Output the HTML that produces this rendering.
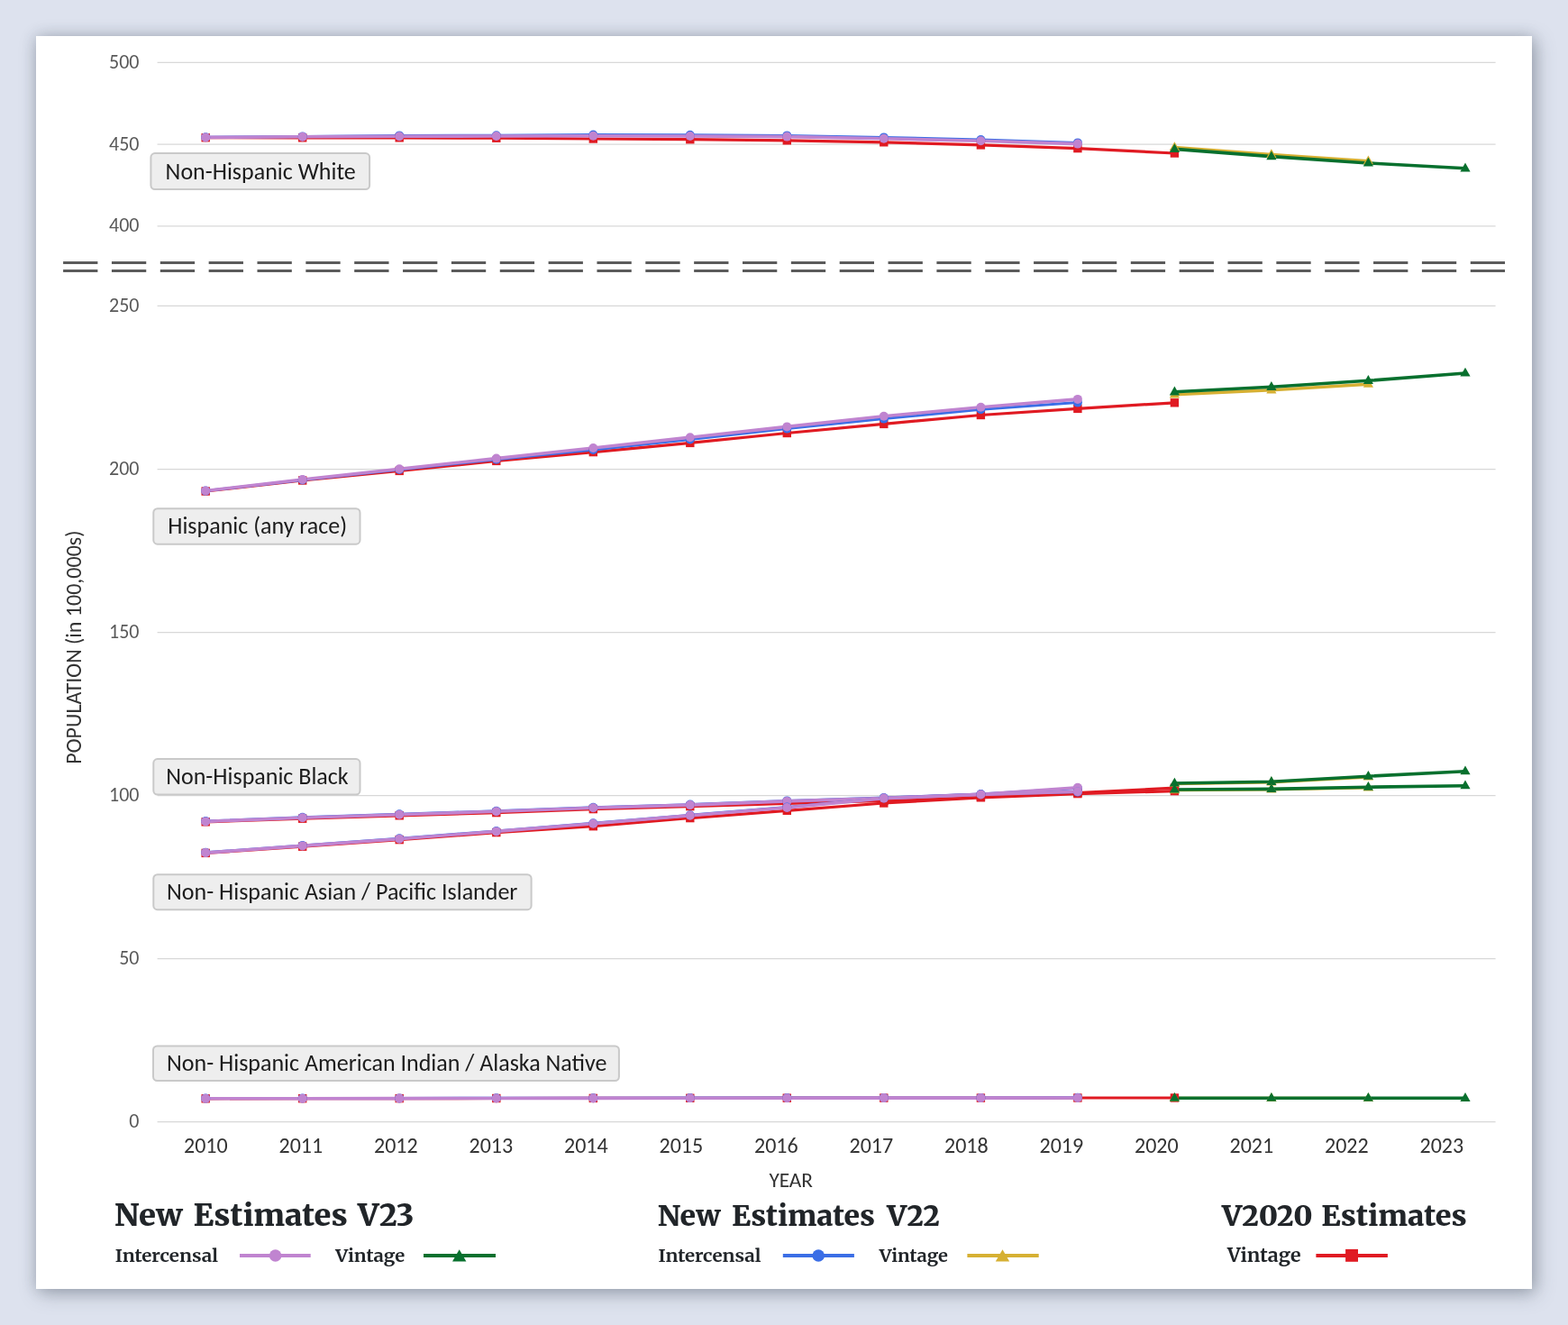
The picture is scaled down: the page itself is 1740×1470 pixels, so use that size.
<!DOCTYPE html>
<html><head><meta charset="utf-8"><title>Population Estimates by Race and Hispanic Origin</title>
<style>
html,body{margin:0;padding:0;}
body{width:1740px;height:1470px;background:#dde2ee;position:relative;overflow:hidden;}
.card{position:absolute;left:40px;top:40px;width:1660px;height:1390px;background:#ffffff;
  box-shadow:0 0 14px rgba(60,72,86,0.22), 4px 5px 20px rgba(60,72,86,0.36);}
svg{position:absolute;left:0;top:0;}
.tick{font-family:Carlito,"Liberation Sans",sans-serif;font-size:22px;fill:#595959;}
.xl{font-family:Carlito,"Liberation Sans",sans-serif;font-size:24px;fill:#333333;}
.lab{font-family:Carlito,"Liberation Sans",sans-serif;font-size:26px;fill:#1c1c1c;}
.ax{font-family:Carlito,"Liberation Sans",sans-serif;font-size:24px;fill:#333333;}
.lt{font-family:Merriweather,"Liberation Serif",serif;font-weight:900;fill:#212529;}
.li{font-family:Merriweather,"Liberation Serif",serif;font-weight:700;font-size:20px;fill:#212529;}
</style></head>
<body>
<div class="card"></div>
<svg width="1740" height="1470" viewBox="0 0 1740 1470">
<line x1="174.6" x2="1659.6" y1="69.45" y2="69.45" stroke="#d8d8d8" stroke-width="1.25"/>
<line x1="174.6" x2="1659.6" y1="160.1" y2="160.1" stroke="#d8d8d8" stroke-width="1.25"/>
<line x1="174.6" x2="1659.6" y1="250.8" y2="250.8" stroke="#d8d8d8" stroke-width="1.25"/>
<line x1="174.6" x2="1659.6" y1="339.45" y2="339.45" stroke="#d8d8d8" stroke-width="1.25"/>
<line x1="174.6" x2="1659.6" y1="520.5" y2="520.5" stroke="#d8d8d8" stroke-width="1.25"/>
<line x1="174.6" x2="1659.6" y1="701.5" y2="701.5" stroke="#d8d8d8" stroke-width="1.25"/>
<line x1="174.6" x2="1659.6" y1="882.55" y2="882.55" stroke="#d8d8d8" stroke-width="1.25"/>
<line x1="174.6" x2="1659.6" y1="1063.6" y2="1063.6" stroke="#d8d8d8" stroke-width="1.25"/>
<line x1="174.6" x2="1659.6" y1="1244.6" y2="1244.6" stroke="#d8d8d8" stroke-width="1.25"/>
<text x="154.5" y="75.9" class="tick" text-anchor="end" textLength="33.45" lengthAdjust="spacingAndGlyphs">500</text>
<text x="154.5" y="166.5" class="tick" text-anchor="end" textLength="33.45" lengthAdjust="spacingAndGlyphs">450</text>
<text x="154.5" y="257.2" class="tick" text-anchor="end" textLength="33.45" lengthAdjust="spacingAndGlyphs">400</text>
<text x="154.5" y="345.8" class="tick" text-anchor="end" textLength="33.45" lengthAdjust="spacingAndGlyphs">250</text>
<text x="154.5" y="526.9" class="tick" text-anchor="end" textLength="33.45" lengthAdjust="spacingAndGlyphs">200</text>
<text x="154.5" y="707.9" class="tick" text-anchor="end" textLength="33.45" lengthAdjust="spacingAndGlyphs">150</text>
<text x="154.5" y="888.9" class="tick" text-anchor="end" textLength="33.45" lengthAdjust="spacingAndGlyphs">100</text>
<text x="154.5" y="1070.0" class="tick" text-anchor="end" textLength="22.30" lengthAdjust="spacingAndGlyphs">50</text>
<text x="154.5" y="1251.0" class="tick" text-anchor="end" textLength="11.15" lengthAdjust="spacingAndGlyphs">0</text>
<g stroke="#5b5b5b" stroke-width="3" stroke-dasharray="38.3 15.55" stroke-linecap="butt">
<line x1="70.1" x2="1670" y1="291.4" y2="291.4"/>
<line x1="70.1" x2="1670" y1="300.5" y2="300.5"/>
</g>
<polyline points="228.2,152.7 335.7,152.8 443.2,152.8 550.8,153.2 658.3,154.0 765.8,154.7 873.3,155.8 980.8,157.8 1088.4,160.9 1195.9,164.6 1303.4,170.0" fill="none" stroke="#e01a22" stroke-width="3.2" stroke-linejoin="round"/>
<polyline points="228.2,152.2 335.7,151.4 443.2,150.4 550.8,150.2 658.3,149.6 765.8,149.8 873.3,150.4 980.8,152.4 1088.4,155.0 1195.9,158.4" fill="none" stroke="#3b6ee6" stroke-width="3.0" stroke-linejoin="round"/>
<polyline points="228.2,152.4 335.7,151.8 443.2,151.2 550.8,151.0 658.3,150.8 765.8,151.0 873.3,151.6 980.8,153.8 1088.4,156.3 1195.9,159.6" fill="none" stroke="#c084d0" stroke-width="3.6" stroke-linejoin="round"/>
<polyline points="1303.4,163.4 1410.9,171.4 1518.4,178.6" fill="none" stroke="#d6b033" stroke-width="3.4" stroke-linejoin="round"/>
<polyline points="1303.4,165.4 1410.9,173.6 1518.4,181.0 1626.0,186.8" fill="none" stroke="#08702e" stroke-width="3.6" stroke-linejoin="round"/>
<polyline points="228.2,545.0 335.7,533.0 443.2,522.4 550.8,511.4 658.3,501.6 765.8,491.4 873.3,480.5 980.8,470.4 1088.4,460.5 1195.9,453.4 1303.4,446.8" fill="none" stroke="#e01a22" stroke-width="3.2" stroke-linejoin="round"/>
<polyline points="228.2,544.6 335.7,532.4 443.2,521.0 550.8,509.8 658.3,499.0 765.8,487.5 873.3,475.6 980.8,464.6 1088.4,454.2 1195.9,446.6" fill="none" stroke="#3b6ee6" stroke-width="3.0" stroke-linejoin="round"/>
<polyline points="228.2,544.5 335.7,532.0 443.2,520.2 550.8,508.6 658.3,497.0 765.8,485.2 873.3,473.4 980.8,461.8 1088.4,451.8 1195.9,442.9" fill="none" stroke="#c084d0" stroke-width="3.6" stroke-linejoin="round"/>
<polyline points="1303.4,437.8 1410.9,432.8 1518.4,426.2" fill="none" stroke="#d6b033" stroke-width="3.4" stroke-linejoin="round"/>
<polyline points="1303.4,434.8 1410.9,429.3 1518.4,422.3 1626.0,414.0" fill="none" stroke="#08702e" stroke-width="3.6" stroke-linejoin="round"/>
<polyline points="228.2,911.8 335.7,908.2 443.2,904.8 550.8,901.6 658.3,897.6 765.8,894.6 873.3,891.4 980.8,888.4 1088.4,884.0 1195.9,879.6 1303.4,874.2" fill="none" stroke="#e01a22" stroke-width="3.2" stroke-linejoin="round"/>
<polyline points="228.2,911.0 335.7,906.8 443.2,903.2 550.8,899.8 658.3,895.7 765.8,892.6 873.3,888.4 980.8,885.0 1088.4,881.0 1195.9,874.6" fill="none" stroke="#3b6ee6" stroke-width="3.0" stroke-linejoin="round"/>
<polyline points="228.2,911.4 335.7,907.2 443.2,903.7 550.8,900.3 658.3,896.2 765.8,893.1 873.3,888.9 980.8,885.5 1088.4,881.4 1195.9,873.8" fill="none" stroke="#c084d0" stroke-width="3.6" stroke-linejoin="round"/>
<polyline points="1303.4,869.6 1410.9,867.8 1518.4,862.0" fill="none" stroke="#d6b033" stroke-width="3.4" stroke-linejoin="round"/>
<polyline points="1303.4,869.0 1410.9,867.3 1518.4,861.2 1626.0,855.7" fill="none" stroke="#08702e" stroke-width="3.6" stroke-linejoin="round"/>
<polyline points="228.2,946.4 335.7,939.2 443.2,931.6 550.8,923.6 658.3,916.7 765.8,907.6 873.3,899.3 980.8,891.0 1088.4,884.8 1195.9,880.6 1303.4,877.6" fill="none" stroke="#e01a22" stroke-width="3.2" stroke-linejoin="round"/>
<polyline points="228.2,945.8 335.7,938.0 443.2,930.2 550.8,922.0 658.3,913.3 765.8,904.3 873.3,895.6 980.8,885.4 1088.4,881.2 1195.9,878.6" fill="none" stroke="#3b6ee6" stroke-width="3.0" stroke-linejoin="round"/>
<polyline points="228.2,946.1 335.7,938.4 443.2,930.7 550.8,922.4 658.3,913.7 765.8,904.7 873.3,896.0 980.8,885.6 1088.4,881.4 1195.9,878.2" fill="none" stroke="#c084d0" stroke-width="3.6" stroke-linejoin="round"/>
<polyline points="1303.4,876.6 1410.9,875.8 1518.4,873.8" fill="none" stroke="#d6b033" stroke-width="3.4" stroke-linejoin="round"/>
<polyline points="1303.4,876.0 1410.9,875.4 1518.4,873.2 1626.0,871.7" fill="none" stroke="#08702e" stroke-width="3.6" stroke-linejoin="round"/>
<polyline points="228.2,1218.8 335.7,1218.7 443.2,1218.6 550.8,1218.5 658.3,1218.4 765.8,1218.3 873.3,1218.2 980.8,1218.1 1088.4,1218.1 1195.9,1218.0 1303.4,1218.0" fill="none" stroke="#e01a22" stroke-width="3.2" stroke-linejoin="round"/>
<polyline points="228.2,1218.6 335.7,1218.5 443.2,1218.4 550.8,1218.3 658.3,1218.2 765.8,1218.1 873.3,1218.0 980.8,1217.9 1088.4,1217.9 1195.9,1217.8" fill="none" stroke="#3b6ee6" stroke-width="3.0" stroke-linejoin="round"/>
<polyline points="228.2,1218.8 335.7,1218.7 443.2,1218.6 550.8,1218.5 658.3,1218.4 765.8,1218.3 873.3,1218.2 980.8,1218.1 1088.4,1218.1 1195.9,1218.0" fill="none" stroke="#c084d0" stroke-width="3.6" stroke-linejoin="round"/>
<polyline points="1303.4,1218.4 1410.9,1218.4 1518.4,1218.4" fill="none" stroke="#d6b033" stroke-width="3.4" stroke-linejoin="round"/>
<polyline points="1303.4,1218.2 1410.9,1218.2 1518.4,1218.2 1626.0,1218.3" fill="none" stroke="#08702e" stroke-width="3.6" stroke-linejoin="round"/>
<rect x="223.5" y="148.0" width="9.4" height="9.4" fill="#e01a22"/>
<rect x="331.0" y="148.1" width="9.4" height="9.4" fill="#e01a22"/>
<rect x="438.5" y="148.1" width="9.4" height="9.4" fill="#e01a22"/>
<rect x="546.1" y="148.5" width="9.4" height="9.4" fill="#e01a22"/>
<rect x="653.6" y="149.3" width="9.4" height="9.4" fill="#e01a22"/>
<rect x="761.1" y="150.0" width="9.4" height="9.4" fill="#e01a22"/>
<rect x="868.6" y="151.1" width="9.4" height="9.4" fill="#e01a22"/>
<rect x="976.1" y="153.1" width="9.4" height="9.4" fill="#e01a22"/>
<rect x="1083.7" y="156.2" width="9.4" height="9.4" fill="#e01a22"/>
<rect x="1191.2" y="159.9" width="9.4" height="9.4" fill="#e01a22"/>
<rect x="1298.7" y="165.3" width="9.4" height="9.4" fill="#e01a22"/>
<circle cx="228.2" cy="152.2" r="5" fill="#3b6ee6"/>
<circle cx="335.7" cy="151.4" r="5" fill="#3b6ee6"/>
<circle cx="443.2" cy="150.4" r="5" fill="#3b6ee6"/>
<circle cx="550.8" cy="150.2" r="5" fill="#3b6ee6"/>
<circle cx="658.3" cy="149.6" r="5" fill="#3b6ee6"/>
<circle cx="765.8" cy="149.8" r="5" fill="#3b6ee6"/>
<circle cx="873.3" cy="150.4" r="5" fill="#3b6ee6"/>
<circle cx="980.8" cy="152.4" r="5" fill="#3b6ee6"/>
<circle cx="1088.4" cy="155.0" r="5" fill="#3b6ee6"/>
<circle cx="1195.9" cy="158.4" r="5" fill="#3b6ee6"/>
<circle cx="228.2" cy="152.4" r="5" fill="#c084d0"/>
<circle cx="335.7" cy="151.8" r="5" fill="#c084d0"/>
<circle cx="443.2" cy="151.2" r="5" fill="#c084d0"/>
<circle cx="550.8" cy="151.0" r="5" fill="#c084d0"/>
<circle cx="658.3" cy="150.8" r="5" fill="#c084d0"/>
<circle cx="765.8" cy="151.0" r="5" fill="#c084d0"/>
<circle cx="873.3" cy="151.6" r="5" fill="#c084d0"/>
<circle cx="980.8" cy="153.8" r="5" fill="#c084d0"/>
<circle cx="1088.4" cy="156.3" r="5" fill="#c084d0"/>
<circle cx="1195.9" cy="159.6" r="5" fill="#c084d0"/>
<path d="M1303.4,157.2 L1309.0,167.0 L1297.8,167.0 Z" fill="#d6b033"/>
<path d="M1410.9,165.2 L1416.5,175.0 L1405.3,175.0 Z" fill="#d6b033"/>
<path d="M1518.4,172.4 L1524.0,182.2 L1512.8,182.2 Z" fill="#d6b033"/>
<path d="M1303.4,159.2 L1309.0,169.0 L1297.8,169.0 Z" fill="#08702e"/>
<path d="M1410.9,167.4 L1416.5,177.2 L1405.3,177.2 Z" fill="#08702e"/>
<path d="M1518.4,174.8 L1524.0,184.6 L1512.8,184.6 Z" fill="#08702e"/>
<path d="M1626.0,180.6 L1631.6,190.4 L1620.4,190.4 Z" fill="#08702e"/>
<rect x="223.5" y="540.3" width="9.4" height="9.4" fill="#e01a22"/>
<rect x="331.0" y="528.3" width="9.4" height="9.4" fill="#e01a22"/>
<rect x="438.5" y="517.7" width="9.4" height="9.4" fill="#e01a22"/>
<rect x="546.1" y="506.7" width="9.4" height="9.4" fill="#e01a22"/>
<rect x="653.6" y="496.9" width="9.4" height="9.4" fill="#e01a22"/>
<rect x="761.1" y="486.7" width="9.4" height="9.4" fill="#e01a22"/>
<rect x="868.6" y="475.8" width="9.4" height="9.4" fill="#e01a22"/>
<rect x="976.1" y="465.7" width="9.4" height="9.4" fill="#e01a22"/>
<rect x="1083.7" y="455.8" width="9.4" height="9.4" fill="#e01a22"/>
<rect x="1191.2" y="448.7" width="9.4" height="9.4" fill="#e01a22"/>
<rect x="1298.7" y="442.1" width="9.4" height="9.4" fill="#e01a22"/>
<circle cx="228.2" cy="544.6" r="5" fill="#3b6ee6"/>
<circle cx="335.7" cy="532.4" r="5" fill="#3b6ee6"/>
<circle cx="443.2" cy="521.0" r="5" fill="#3b6ee6"/>
<circle cx="550.8" cy="509.8" r="5" fill="#3b6ee6"/>
<circle cx="658.3" cy="499.0" r="5" fill="#3b6ee6"/>
<circle cx="765.8" cy="487.5" r="5" fill="#3b6ee6"/>
<circle cx="873.3" cy="475.6" r="5" fill="#3b6ee6"/>
<circle cx="980.8" cy="464.6" r="5" fill="#3b6ee6"/>
<circle cx="1088.4" cy="454.2" r="5" fill="#3b6ee6"/>
<circle cx="1195.9" cy="446.6" r="5" fill="#3b6ee6"/>
<circle cx="228.2" cy="544.5" r="5" fill="#c084d0"/>
<circle cx="335.7" cy="532.0" r="5" fill="#c084d0"/>
<circle cx="443.2" cy="520.2" r="5" fill="#c084d0"/>
<circle cx="550.8" cy="508.6" r="5" fill="#c084d0"/>
<circle cx="658.3" cy="497.0" r="5" fill="#c084d0"/>
<circle cx="765.8" cy="485.2" r="5" fill="#c084d0"/>
<circle cx="873.3" cy="473.4" r="5" fill="#c084d0"/>
<circle cx="980.8" cy="461.8" r="5" fill="#c084d0"/>
<circle cx="1088.4" cy="451.8" r="5" fill="#c084d0"/>
<circle cx="1195.9" cy="442.9" r="5" fill="#c084d0"/>
<path d="M1303.4,431.6 L1309.0,441.4 L1297.8,441.4 Z" fill="#d6b033"/>
<path d="M1410.9,426.6 L1416.5,436.4 L1405.3,436.4 Z" fill="#d6b033"/>
<path d="M1518.4,420.0 L1524.0,429.8 L1512.8,429.8 Z" fill="#d6b033"/>
<path d="M1303.4,428.6 L1309.0,438.4 L1297.8,438.4 Z" fill="#08702e"/>
<path d="M1410.9,423.1 L1416.5,432.9 L1405.3,432.9 Z" fill="#08702e"/>
<path d="M1518.4,416.1 L1524.0,425.9 L1512.8,425.9 Z" fill="#08702e"/>
<path d="M1626.0,407.8 L1631.6,417.6 L1620.4,417.6 Z" fill="#08702e"/>
<rect x="223.5" y="907.1" width="9.4" height="9.4" fill="#e01a22"/>
<rect x="331.0" y="903.5" width="9.4" height="9.4" fill="#e01a22"/>
<rect x="438.5" y="900.1" width="9.4" height="9.4" fill="#e01a22"/>
<rect x="546.1" y="896.9" width="9.4" height="9.4" fill="#e01a22"/>
<rect x="653.6" y="892.9" width="9.4" height="9.4" fill="#e01a22"/>
<rect x="761.1" y="889.9" width="9.4" height="9.4" fill="#e01a22"/>
<rect x="868.6" y="886.7" width="9.4" height="9.4" fill="#e01a22"/>
<rect x="976.1" y="883.7" width="9.4" height="9.4" fill="#e01a22"/>
<rect x="1083.7" y="879.3" width="9.4" height="9.4" fill="#e01a22"/>
<rect x="1191.2" y="874.9" width="9.4" height="9.4" fill="#e01a22"/>
<rect x="1298.7" y="869.5" width="9.4" height="9.4" fill="#e01a22"/>
<circle cx="228.2" cy="911.0" r="5" fill="#3b6ee6"/>
<circle cx="335.7" cy="906.8" r="5" fill="#3b6ee6"/>
<circle cx="443.2" cy="903.2" r="5" fill="#3b6ee6"/>
<circle cx="550.8" cy="899.8" r="5" fill="#3b6ee6"/>
<circle cx="658.3" cy="895.7" r="5" fill="#3b6ee6"/>
<circle cx="765.8" cy="892.6" r="5" fill="#3b6ee6"/>
<circle cx="873.3" cy="888.4" r="5" fill="#3b6ee6"/>
<circle cx="980.8" cy="885.0" r="5" fill="#3b6ee6"/>
<circle cx="1088.4" cy="881.0" r="5" fill="#3b6ee6"/>
<circle cx="1195.9" cy="874.6" r="5" fill="#3b6ee6"/>
<circle cx="228.2" cy="911.4" r="5" fill="#c084d0"/>
<circle cx="335.7" cy="907.2" r="5" fill="#c084d0"/>
<circle cx="443.2" cy="903.7" r="5" fill="#c084d0"/>
<circle cx="550.8" cy="900.3" r="5" fill="#c084d0"/>
<circle cx="658.3" cy="896.2" r="5" fill="#c084d0"/>
<circle cx="765.8" cy="893.1" r="5" fill="#c084d0"/>
<circle cx="873.3" cy="888.9" r="5" fill="#c084d0"/>
<circle cx="980.8" cy="885.5" r="5" fill="#c084d0"/>
<circle cx="1088.4" cy="881.4" r="5" fill="#c084d0"/>
<circle cx="1195.9" cy="873.8" r="5" fill="#c084d0"/>
<path d="M1303.4,863.4 L1309.0,873.2 L1297.8,873.2 Z" fill="#d6b033"/>
<path d="M1410.9,861.6 L1416.5,871.4 L1405.3,871.4 Z" fill="#d6b033"/>
<path d="M1518.4,855.8 L1524.0,865.6 L1512.8,865.6 Z" fill="#d6b033"/>
<path d="M1303.4,862.8 L1309.0,872.6 L1297.8,872.6 Z" fill="#08702e"/>
<path d="M1410.9,861.1 L1416.5,870.9 L1405.3,870.9 Z" fill="#08702e"/>
<path d="M1518.4,855.0 L1524.0,864.8 L1512.8,864.8 Z" fill="#08702e"/>
<path d="M1626.0,849.5 L1631.6,859.3 L1620.4,859.3 Z" fill="#08702e"/>
<rect x="223.5" y="941.7" width="9.4" height="9.4" fill="#e01a22"/>
<rect x="331.0" y="934.5" width="9.4" height="9.4" fill="#e01a22"/>
<rect x="438.5" y="926.9" width="9.4" height="9.4" fill="#e01a22"/>
<rect x="546.1" y="918.9" width="9.4" height="9.4" fill="#e01a22"/>
<rect x="653.6" y="912.0" width="9.4" height="9.4" fill="#e01a22"/>
<rect x="761.1" y="902.9" width="9.4" height="9.4" fill="#e01a22"/>
<rect x="868.6" y="894.6" width="9.4" height="9.4" fill="#e01a22"/>
<rect x="976.1" y="886.3" width="9.4" height="9.4" fill="#e01a22"/>
<rect x="1083.7" y="880.1" width="9.4" height="9.4" fill="#e01a22"/>
<rect x="1191.2" y="875.9" width="9.4" height="9.4" fill="#e01a22"/>
<rect x="1298.7" y="872.9" width="9.4" height="9.4" fill="#e01a22"/>
<circle cx="228.2" cy="945.8" r="5" fill="#3b6ee6"/>
<circle cx="335.7" cy="938.0" r="5" fill="#3b6ee6"/>
<circle cx="443.2" cy="930.2" r="5" fill="#3b6ee6"/>
<circle cx="550.8" cy="922.0" r="5" fill="#3b6ee6"/>
<circle cx="658.3" cy="913.3" r="5" fill="#3b6ee6"/>
<circle cx="765.8" cy="904.3" r="5" fill="#3b6ee6"/>
<circle cx="873.3" cy="895.6" r="5" fill="#3b6ee6"/>
<circle cx="980.8" cy="885.4" r="5" fill="#3b6ee6"/>
<circle cx="1088.4" cy="881.2" r="5" fill="#3b6ee6"/>
<circle cx="1195.9" cy="878.6" r="5" fill="#3b6ee6"/>
<circle cx="228.2" cy="946.1" r="5" fill="#c084d0"/>
<circle cx="335.7" cy="938.4" r="5" fill="#c084d0"/>
<circle cx="443.2" cy="930.7" r="5" fill="#c084d0"/>
<circle cx="550.8" cy="922.4" r="5" fill="#c084d0"/>
<circle cx="658.3" cy="913.7" r="5" fill="#c084d0"/>
<circle cx="765.8" cy="904.7" r="5" fill="#c084d0"/>
<circle cx="873.3" cy="896.0" r="5" fill="#c084d0"/>
<circle cx="980.8" cy="885.6" r="5" fill="#c084d0"/>
<circle cx="1088.4" cy="881.4" r="5" fill="#c084d0"/>
<circle cx="1195.9" cy="878.2" r="5" fill="#c084d0"/>
<path d="M1303.4,870.4 L1309.0,880.2 L1297.8,880.2 Z" fill="#d6b033"/>
<path d="M1410.9,869.6 L1416.5,879.4 L1405.3,879.4 Z" fill="#d6b033"/>
<path d="M1518.4,867.6 L1524.0,877.4 L1512.8,877.4 Z" fill="#d6b033"/>
<path d="M1303.4,869.8 L1309.0,879.6 L1297.8,879.6 Z" fill="#08702e"/>
<path d="M1410.9,869.2 L1416.5,879.0 L1405.3,879.0 Z" fill="#08702e"/>
<path d="M1518.4,867.0 L1524.0,876.8 L1512.8,876.8 Z" fill="#08702e"/>
<path d="M1626.0,865.5 L1631.6,875.3 L1620.4,875.3 Z" fill="#08702e"/>
<rect x="223.5" y="1214.1" width="9.4" height="9.4" fill="#e01a22"/>
<rect x="331.0" y="1214.0" width="9.4" height="9.4" fill="#e01a22"/>
<rect x="438.5" y="1213.9" width="9.4" height="9.4" fill="#e01a22"/>
<rect x="546.1" y="1213.8" width="9.4" height="9.4" fill="#e01a22"/>
<rect x="653.6" y="1213.7" width="9.4" height="9.4" fill="#e01a22"/>
<rect x="761.1" y="1213.6" width="9.4" height="9.4" fill="#e01a22"/>
<rect x="868.6" y="1213.5" width="9.4" height="9.4" fill="#e01a22"/>
<rect x="976.1" y="1213.4" width="9.4" height="9.4" fill="#e01a22"/>
<rect x="1083.7" y="1213.4" width="9.4" height="9.4" fill="#e01a22"/>
<rect x="1191.2" y="1213.3" width="9.4" height="9.4" fill="#e01a22"/>
<rect x="1298.7" y="1213.3" width="9.4" height="9.4" fill="#e01a22"/>
<circle cx="228.2" cy="1218.6" r="5" fill="#3b6ee6"/>
<circle cx="335.7" cy="1218.5" r="5" fill="#3b6ee6"/>
<circle cx="443.2" cy="1218.4" r="5" fill="#3b6ee6"/>
<circle cx="550.8" cy="1218.3" r="5" fill="#3b6ee6"/>
<circle cx="658.3" cy="1218.2" r="5" fill="#3b6ee6"/>
<circle cx="765.8" cy="1218.1" r="5" fill="#3b6ee6"/>
<circle cx="873.3" cy="1218.0" r="5" fill="#3b6ee6"/>
<circle cx="980.8" cy="1217.9" r="5" fill="#3b6ee6"/>
<circle cx="1088.4" cy="1217.9" r="5" fill="#3b6ee6"/>
<circle cx="1195.9" cy="1217.8" r="5" fill="#3b6ee6"/>
<circle cx="228.2" cy="1218.8" r="5" fill="#c084d0"/>
<circle cx="335.7" cy="1218.7" r="5" fill="#c084d0"/>
<circle cx="443.2" cy="1218.6" r="5" fill="#c084d0"/>
<circle cx="550.8" cy="1218.5" r="5" fill="#c084d0"/>
<circle cx="658.3" cy="1218.4" r="5" fill="#c084d0"/>
<circle cx="765.8" cy="1218.3" r="5" fill="#c084d0"/>
<circle cx="873.3" cy="1218.2" r="5" fill="#c084d0"/>
<circle cx="980.8" cy="1218.1" r="5" fill="#c084d0"/>
<circle cx="1088.4" cy="1218.1" r="5" fill="#c084d0"/>
<circle cx="1195.9" cy="1218.0" r="5" fill="#c084d0"/>
<path d="M1303.4,1212.2 L1309.0,1222.0 L1297.8,1222.0 Z" fill="#d6b033"/>
<path d="M1410.9,1212.2 L1416.5,1222.0 L1405.3,1222.0 Z" fill="#d6b033"/>
<path d="M1518.4,1212.2 L1524.0,1222.0 L1512.8,1222.0 Z" fill="#d6b033"/>
<path d="M1303.4,1212.0 L1309.0,1221.8 L1297.8,1221.8 Z" fill="#08702e"/>
<path d="M1410.9,1212.0 L1416.5,1221.8 L1405.3,1221.8 Z" fill="#08702e"/>
<path d="M1518.4,1212.0 L1524.0,1221.8 L1512.8,1221.8 Z" fill="#08702e"/>
<path d="M1626.0,1212.1 L1631.6,1221.9 L1620.4,1221.9 Z" fill="#08702e"/>
<rect x="167.4" y="170.1" width="242.7" height="39.9" rx="4.5" ry="4.5" fill="#eeeeee" stroke="#c9c9c9" stroke-width="2"/><text x="183.6" y="198.6" class="lab" textLength="211.19" lengthAdjust="spacingAndGlyphs">Non-Hispanic White</text>
<rect x="170.3" y="564.2" width="229.2" height="39.5" rx="4.5" ry="4.5" fill="#eeeeee" stroke="#c9c9c9" stroke-width="2"/><text x="186.2" y="592.3" class="lab" textLength="198.91" lengthAdjust="spacingAndGlyphs">Hispanic (any race)</text>
<rect x="170.3" y="842.1" width="229.2" height="39.4" rx="4.5" ry="4.5" fill="#eeeeee" stroke="#c9c9c9" stroke-width="2"/><text x="184.2" y="870.0" class="lab" textLength="202.44" lengthAdjust="spacingAndGlyphs">Non-Hispanic Black</text>
<rect x="170.3" y="970.2" width="419.3" height="39.0" rx="4.5" ry="4.5" fill="#eeeeee" stroke="#c9c9c9" stroke-width="2"/><text x="185.0" y="998.4" class="lab" textLength="389.42" lengthAdjust="spacingAndGlyphs">Non- Hispanic Asian / Pacific Islander</text>
<rect x="170.0" y="1160.5" width="516.9" height="38.6" rx="4.5" ry="4.5" fill="#eeeeee" stroke="#c9c9c9" stroke-width="2"/><text x="185.0" y="1188.2" class="lab" textLength="488.49" lengthAdjust="spacingAndGlyphs">Non- Hispanic American Indian / Alaska Native</text>
<text x="228.3" y="1278.9" class="xl" text-anchor="middle" textLength="48.66" lengthAdjust="spacingAndGlyphs">2010</text>
<text x="333.8" y="1278.9" class="xl" text-anchor="middle" textLength="48.66" lengthAdjust="spacingAndGlyphs">2011</text>
<text x="439.3" y="1278.9" class="xl" text-anchor="middle" textLength="48.66" lengthAdjust="spacingAndGlyphs">2012</text>
<text x="544.8" y="1278.9" class="xl" text-anchor="middle" textLength="48.66" lengthAdjust="spacingAndGlyphs">2013</text>
<text x="650.3" y="1278.9" class="xl" text-anchor="middle" textLength="48.66" lengthAdjust="spacingAndGlyphs">2014</text>
<text x="755.8" y="1278.9" class="xl" text-anchor="middle" textLength="48.66" lengthAdjust="spacingAndGlyphs">2015</text>
<text x="861.3" y="1278.9" class="xl" text-anchor="middle" textLength="48.66" lengthAdjust="spacingAndGlyphs">2016</text>
<text x="966.8" y="1278.9" class="xl" text-anchor="middle" textLength="48.66" lengthAdjust="spacingAndGlyphs">2017</text>
<text x="1072.3" y="1278.9" class="xl" text-anchor="middle" textLength="48.66" lengthAdjust="spacingAndGlyphs">2018</text>
<text x="1177.8" y="1278.9" class="xl" text-anchor="middle" textLength="48.66" lengthAdjust="spacingAndGlyphs">2019</text>
<text x="1283.3" y="1278.9" class="xl" text-anchor="middle" textLength="48.66" lengthAdjust="spacingAndGlyphs">2020</text>
<text x="1388.8" y="1278.9" class="xl" text-anchor="middle" textLength="48.66" lengthAdjust="spacingAndGlyphs">2021</text>
<text x="1494.3" y="1278.9" class="xl" text-anchor="middle" textLength="48.66" lengthAdjust="spacingAndGlyphs">2022</text>
<text x="1599.8" y="1278.9" class="xl" text-anchor="middle" textLength="48.66" lengthAdjust="spacingAndGlyphs">2023</text>
<text x="877.7" y="1317.2" class="ax" text-anchor="middle" style="font-size:23.3px" textLength="48.61" lengthAdjust="spacingAndGlyphs">YEAR</text>
<text transform="translate(89.5,718.1) rotate(-90)" class="ax" text-anchor="middle" textLength="259.20" lengthAdjust="spacingAndGlyphs">POPULATION (in 100,000s)</text>
<text x="126.95" y="1360.0" class="lt" style="font-size:32.9px;font-weight:900" textLength="75.91" lengthAdjust="spacingAndGlyphs">New</text>
<text x="214.56" y="1360.0" class="lt" style="font-size:32.9px;font-weight:900" textLength="171.19" lengthAdjust="spacingAndGlyphs">Estimates</text>
<text x="397.13" y="1360.0" class="lt" style="font-size:32.9px;font-weight:900" textLength="62.24" lengthAdjust="spacingAndGlyphs">V23</text>
<text x="729.67" y="1360.0" class="lt" style="font-size:30.9px;font-weight:900" textLength="70.11" lengthAdjust="spacingAndGlyphs">New</text>
<text x="812.07" y="1360.0" class="lt" style="font-size:30.9px;font-weight:900" textLength="159.00" lengthAdjust="spacingAndGlyphs">Estimates</text>
<text x="984.31" y="1360.0" class="lt" style="font-size:30.9px;font-weight:900" textLength="58.53" lengthAdjust="spacingAndGlyphs">V22</text>
<text x="1355.93" y="1360.0" class="lt" style="font-size:30.9px;font-weight:900" textLength="100.81" lengthAdjust="spacingAndGlyphs">V2020</text>
<text x="1466.36" y="1360.0" class="lt" style="font-size:30.9px;font-weight:900" textLength="161.33" lengthAdjust="spacingAndGlyphs">Estimates</text>
<text x="127.80" y="1400.0" class="li" style="font-size:18.9px;font-weight:700" textLength="114.15" lengthAdjust="spacingAndGlyphs">Intercensal</text>
<text x="372.17" y="1400.0" class="li" style="font-size:18.9px;font-weight:700" textLength="77.16" lengthAdjust="spacingAndGlyphs">Vintage</text>
<text x="730.60" y="1400.0" class="li" style="font-size:18.9px;font-weight:700" textLength="113.75" lengthAdjust="spacingAndGlyphs">Intercensal</text>
<text x="975.66" y="1400.0" class="li" style="font-size:18.9px;font-weight:700" textLength="76.27" lengthAdjust="spacingAndGlyphs">Vintage</text>
<text x="1362.12" y="1400.0" class="li" style="font-size:20.9px;font-weight:700" textLength="81.38" lengthAdjust="spacingAndGlyphs">Vintage</text>
<line x1="266" x2="344.7" y1="1393.0" y2="1393.0" stroke="#c084d0" stroke-width="4"/>
<circle cx="305.6" cy="1393.0" r="6.8" fill="#c084d0"/>
<line x1="470" x2="550" y1="1393.0" y2="1393.0" stroke="#08702e" stroke-width="4"/>
<path d="M509.7,1386.2 L517.4,1399.6 L502,1399.6 Z" fill="#08702e"/>
<line x1="868.8" x2="947.9" y1="1393.0" y2="1393.0" stroke="#3b6ee6" stroke-width="4"/>
<circle cx="908.2" cy="1393.0" r="6.8" fill="#3b6ee6"/>
<line x1="1073.4" x2="1152.7" y1="1393.0" y2="1393.0" stroke="#d6b033" stroke-width="4"/>
<path d="M1112.5,1386.2 L1120.2,1399.6 L1104.8,1399.6 Z" fill="#d6b033"/>
<line x1="1460.4" x2="1539.9" y1="1393.0" y2="1393.0" stroke="#e01a22" stroke-width="4"/>
<rect x="1493.1" y="1385.9" width="13.9" height="13.9" fill="#e01a22"/>

</svg>
</body></html>
